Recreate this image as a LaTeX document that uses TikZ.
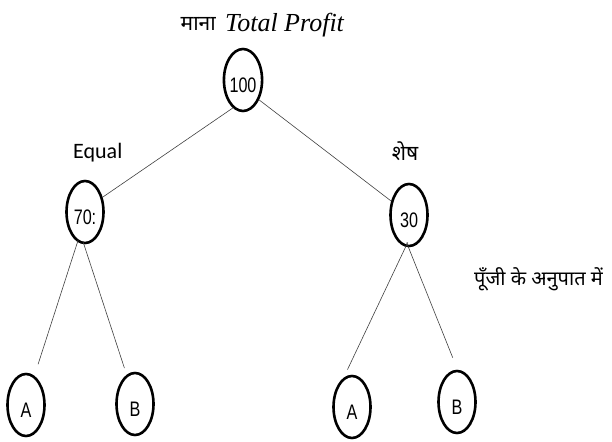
\documentclass[tikz,border=0pt]{standalone}
\usepackage{graphicx}
\usepackage{fontspec}
\usetikzlibrary{shapes.geometric}
\newfontfamily\deva[Script=Devanagari]{Noto Sans}
\newfontfamily\numfont{Liberation Sans}
\newfontfamily\serifit{Liberation Serif}
\newfontfamily\labfont{Carlito}
\newcommand{\narrowtxt}[1]{\scalebox{0.77}[1]{#1}}
\tikzset{
  val/.style={ellipse, draw=black, line width=2.6pt, minimum width=37pt, minimum height=62pt,
    inner sep=0pt, text height=25pt, text depth=0pt, font=\numfont\fontsize{21}{21}\selectfont},
  link/.style={draw=black!75, line width=0.6pt},
}
\begin{document}
\begin{tikzpicture}[x=1pt,y=-1pt]
\useasboundingbox (0,0) rectangle (612,441);
% labels
\node[anchor=base east, inner sep=0pt, font=\deva\fontsize{21}{21}\selectfont] (mana) at (216,31) {माना};
\node[anchor=base west, inner sep=0pt, font=\serifit\itshape\fontsize{26}{26}\selectfont] (tp) at (225,32) {Total Profit};
\node[anchor=base west, inner sep=0pt, font=\labfont\fontsize{22}{22}\selectfont] (eq) at (73,158) {Equal};
\node[anchor=base, inner sep=0pt, font=\deva\fontsize{21}{21}\selectfont] (shesh) at (405,160) {शेष};
\node[anchor=base west, inner sep=0pt, font=\deva\fontsize{20}{20}\selectfont] (ratio) at (474,285) {पूँजी के अनुपात में};
% value nodes
\node[val] (n100) at (243,80) {\narrowtxt{100}};
\node[val] (n70) at (85,212) {\narrowtxt{70:}};
\node[val] (n30) at (409,215) {\narrowtxt{30}};
\node[val] (a1) at (26,405) {\narrowtxt{A}};
\node[val] (b1) at (135,404) {\narrowtxt{B}};
\node[val] (a2) at (352,407) {\narrowtxt{A}};
\node[val] (b2) at (457,402) {\narrowtxt{B}};
% connectors
\draw[link] (n100.250) -- (n70.40);
\draw[link] (n100.309) -- (n30.142);
\draw[link, shorten <=-2pt, shorten >=12pt] (n70.256) -- (a1.74);
\draw[link, shorten <=-2pt, shorten >=7pt] (n70.268) -- (b1.106);
\draw[link, shorten <=-5pt, shorten >=9pt] (n30.264) -- (a2.106);
\draw[link, shorten <=-5pt, shorten >=13pt] (n30.269) -- (b2.89);
\end{tikzpicture}
\end{document}
